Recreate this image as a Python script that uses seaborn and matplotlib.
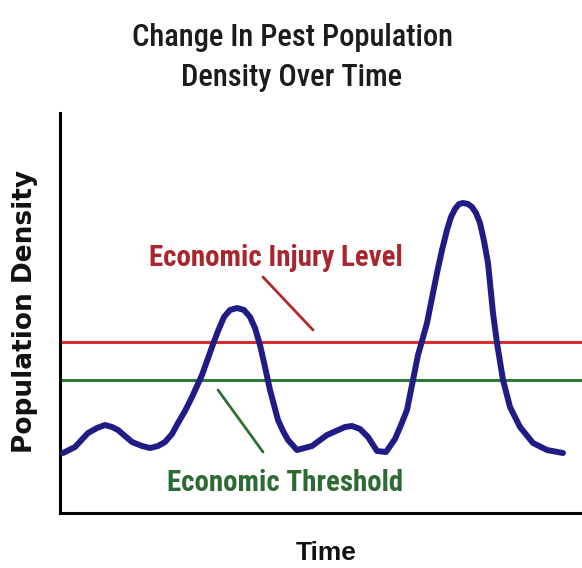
import matplotlib

matplotlib.use("Agg")
import matplotlib.pyplot as plt
import seaborn as sns
import pandas as pd

sns.set_style("white")
plt.rcParams["font.family"] = ["Roboto Condensed", "DejaVu Sans"]

# ── Data (arbitrary units) ───────────────────────────
time = [3, 15, 28, 37, 45, 52, 58, 72, 82, 90, 98, 105, 112, 118, 125, 132,
        142, 152, 158, 164, 170, 177, 184, 190, 195, 200, 205, 210, 218, 223,
        228, 237, 252, 267, 285, 292, 300, 308, 317, 326, 335, 341, 347, 353,
        358, 362, 367, 372, 377, 382, 387, 391, 395, 399, 403, 408, 412, 416,
        420, 424, 428, 433, 437, 443, 450, 460, 473, 487, 503]
density = [60, 66, 80, 85, 88, 86, 83, 71, 67, 65, 67, 71, 79, 90, 102, 116,
           138, 166, 182, 196, 203, 205, 203, 196, 185, 168, 146, 123, 93, 82,
           73, 63, 67, 78, 86, 87, 84, 76, 62, 61, 74, 88, 103, 133,
           158, 172, 190, 215, 240, 263, 283, 296, 304, 309, 310, 309, 306, 300,
           290, 272, 250, 200, 170, 133, 106, 86, 70, 63, 60]
injury_level = 171
threshold = 133

df = pd.DataFrame({"time": time, "density": density})

fig = plt.figure(figsize=(5.82, 5.68), dpi=100)
ax = fig.add_axes([60 / 582, 55 / 568, 522 / 582, 400 / 568])

ax.axhline(injury_level, color="#d83030", linewidth=2.2, zorder=1)
ax.axhline(threshold, color="#2f7a38", linewidth=2.2, zorder=1)
sns.lineplot(data=df, x="time", y="density", ax=ax, color="#1f1c85",
             linewidth=4.3, solid_capstyle="round", solid_joinstyle="round",
             zorder=3)

# pointer lines to labels
ax.plot([203, 253], [236, 183], color="#b02a2a", linewidth=2)
ax.plot([158, 203], [123, 61], color="#2f6e35", linewidth=2)

ax.text(216, 255, "Economic Injury Level", color="#a8262e", fontsize=20.8,
        fontweight="bold", ha="center", va="center")
ax.text(225, 30, "Economic Threshold", color="#2d6a34", fontsize=20.8,
        fontweight="bold", ha="center", va="center")

ax.set_xlim(0, 522)
ax.set_ylim(0, 400)
ax.set_xticks([])
ax.set_yticks([])
ax.set_xlabel("")
ax.set_ylabel("")
for side in ["top", "right"]:
    ax.spines[side].set_visible(False)
for side in ["left", "bottom"]:
    ax.spines[side].set_color("black")
    ax.spines[side].set_linewidth(2.2)

fig.text(292 / 582, 1 - 38 / 568, "Change In Pest Population", fontsize=22,
         ha="center", va="center", color="#1c1c1c", fontweight="medium")
fig.text(292 / 582, 1 - 78 / 568, "Density Over Time", fontsize=22,
         ha="center", va="center", color="#1c1c1c", fontweight="medium")
fig.text(25 / 582, 1 - 311 / 568, "Population Density", fontsize=19,
         fontweight="bold", rotation=90, ha="center", va="center",
         family="DejaVu Sans", color="#111111")
fig.text(326 / 582, 1 - 553 / 568, "Time", fontsize=19, fontweight="bold",
         ha="center", va="center", family=["Liberation Sans", "DejaVu Sans"],
         color="#111111")

fig.savefig("out.png", dpi=100)
